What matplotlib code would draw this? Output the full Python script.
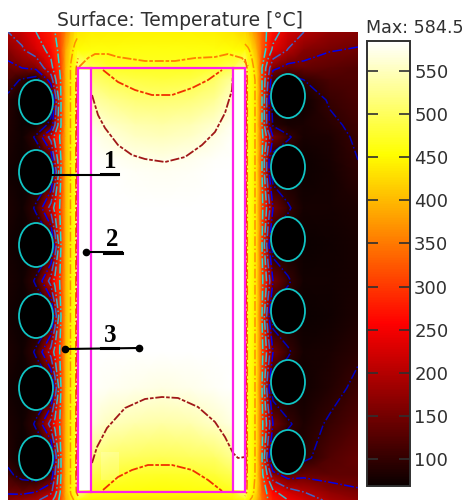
import numpy as np
import matplotlib
matplotlib.use('Agg')
import matplotlib.pyplot as plt
from matplotlib.patches import Ellipse, Rectangle

W, H = 467, 501

# sample positions of the temperature table
x_pos = [8, 22, 36, 51, 55, 61, 66, 71, 75, 78, 91, 110, 135, 162, 190, 215, 233,
         245, 248, 252, 257, 262, 268, 273, 288, 304, 330, 358]
y_pos = [32, 50, 68, 80, 100, 125, 137, 160, 172, 208, 245, 281, 316, 352, 388,
         424, 458, 475, 492, 500]

# temperature, one row per y_pos
t_032 = [200, 215, 250, 280, 300, 320, 360, 400, 425, 435, 440, 442, 445, 445, 445, 442, 435, 420, 410, 390, 360, 330, 290, 270, 225, 200, 175, 165]
t_050 = [165, 195, 225, 265, 285, 320, 390, 430, 450, 455, 458, 458, 460, 460, 460, 458, 455, 450, 445, 430, 390, 330, 280, 240, 198, 165, 152, 147]
t_068 = [140, 150, 160, 235, 270, 310, 400, 445, 465, 530, 490, 475, 470, 470, 470, 478, 495, 530, 470, 450, 420, 300, 220, 160, 135, 140, 132, 125]
t_080 = [120, 95, 75, 170, 240, 305, 400, 445, 462, 560, 510, 495, 488, 485, 488, 505, 535, 570, 465, 455, 430, 300, 200, 110, 72, 100, 118, 122]
t_100 = [90, 72, 70, 75, 170, 300, 400, 445, 462, 572, 540, 525, 513, 510, 515, 530, 560, 572, 465, 455, 430, 300, 170, 72, 70, 72, 105, 118]
t_125 = [88, 72, 75, 110, 200, 300, 400, 445, 462, 572, 570, 555, 543, 540, 545, 560, 578, 572, 465, 455, 430, 300, 170, 95, 80, 82, 92, 110]
t_137 = [85, 75, 105, 220, 265, 310, 400, 445, 462, 572, 578, 565, 553, 550, 555, 570, 582, 572, 465, 455, 430, 310, 230, 150, 105, 80, 85, 106]
t_160 = [80, 72, 75, 110, 210, 300, 400, 445, 462, 572, 583, 580, 574, 572, 575, 582, 584, 572, 465, 455, 430, 300, 170, 75, 70, 72, 80, 100]
t_172 = [75, 70, 70, 75, 170, 300, 400, 445, 462, 572, 584, 584, 580, 578, 580, 584, 584, 572, 465, 455, 430, 300, 170, 72, 70, 72, 78, 96]
t_208 = [84, 75, 105, 220, 265, 310, 400, 445, 462, 572, 584, 584, 584, 584, 584, 584, 584, 572, 465, 455, 430, 310, 230, 150, 105, 78, 78, 85]
t_245 = [76, 70, 70, 75, 170, 300, 400, 445, 462, 572, 584, 584, 584, 584, 584, 584, 584, 572, 465, 455, 430, 300, 170, 72, 70, 71, 74, 80]
t_281 = [82, 75, 105, 220, 265, 310, 400, 445, 462, 572, 584, 584, 584, 584, 584, 584, 584, 572, 465, 455, 430, 310, 230, 150, 105, 76, 76, 80]
t_316 = [76, 70, 70, 75, 170, 300, 400, 445, 462, 572, 584, 584, 584, 584, 584, 584, 584, 572, 465, 455, 430, 300, 170, 72, 70, 71, 75, 85]
t_352 = [84, 75, 105, 220, 265, 310, 400, 445, 462, 572, 584, 584, 584, 584, 584, 584, 584, 572, 465, 455, 430, 310, 230, 150, 105, 78, 82, 95]
t_388 = [76, 70, 70, 75, 170, 300, 400, 445, 462, 572, 582, 578, 574, 570, 574, 580, 583, 572, 465, 455, 430, 300, 170, 72, 70, 75, 88, 108]
t_424 = [85, 75, 105, 220, 265, 310, 400, 445, 462, 572, 565, 550, 542, 538, 542, 555, 570, 572, 465, 455, 430, 310, 230, 150, 105, 85, 105, 125]
t_458 = [88, 71, 70, 75, 170, 300, 400, 445, 462, 572, 520, 505, 498, 495, 498, 505, 525, 570, 465, 455, 430, 300, 170, 72, 70, 90, 125, 140]
t_475 = [110, 85, 72, 110, 200, 300, 400, 445, 462, 572, 495, 480, 475, 472, 475, 480, 495, 560, 465, 455, 430, 310, 240, 170, 130, 140, 135, 135]
t_492 = [145, 140, 150, 190, 230, 310, 400, 445, 460, 530, 465, 458, 456, 455, 456, 458, 465, 530, 465, 450, 420, 330, 290, 260, 220, 200, 170, 155]
t_500 = [165, 175, 190, 235, 265, 320, 390, 430, 445, 450, 440, 438, 435, 435, 435, 438, 440, 450, 445, 435, 400, 340, 300, 275, 250, 225, 190, 170]

temp_rows = [t_032, t_050, t_068, t_080, t_100, t_125, t_137, t_160, t_172, t_208,
             t_245, t_281, t_316, t_352, t_388, t_424, t_458, t_475, t_492, t_500]

# colour scale
t_min, t_max = 69, 584.5
bar_ticks = [100, 150, 200, 250, 300, 350, 400, 450, 500, 550]

# isotherms and their colours
iso_levels = [100, 150, 200, 250, 300, 440, 490, 530, 570]
iso_colors = ['#0000c0', '#0000f0', '#3c64c8', '#3cb4c8', '#20e0d8',
              '#ff9000', '#ff6000', '#f03000', '#a01818']

# isotherms inside the crucible
top_orange_x = [79, 88, 95, 108, 118, 145, 175, 195, 215, 228, 242, 248]
top_orange_y = [67, 58, 54, 54, 57, 61, 61, 58, 57, 54, 58, 66]
top_red_x = [103, 118, 135, 152, 172, 192, 208, 222]
top_red_y = [70, 82, 90, 95, 95, 88, 80, 70]
top_dark_x = [92, 98, 105, 118, 132, 145, 165, 185, 202, 215, 225, 232, 233]
top_dark_y = [95, 115, 128, 145, 155, 159, 162, 157, 145, 132, 113, 90, 73]
bot_dark_x = [92, 97, 107, 125, 145, 162, 178, 198, 215, 225, 233, 238, 245]
bot_dark_y = [463, 447, 428, 408, 399, 397, 398, 407, 422, 437, 453, 458, 457]
bot_red_x = [103, 118, 132, 148, 172, 192, 208, 222]
bot_red_y = [490, 477, 470, 465, 465, 470, 480, 491]

# coil centres
coils_left = [102, 172, 245, 316, 388, 458]
coils_right = [96, 167, 239, 311, 382, 452]

fig = plt.figure(figsize=(W / 100, H / 100), dpi=100)
ax = fig.add_axes([8 / W, 1 - 500 / H, 350 / W, 468 / H])

temp = np.array(temp_rows, dtype=float)
mesh = ax.pcolormesh(x_pos, y_pos, temp, shading='gouraud', cmap='hot',
                     vmin=t_min, vmax=t_max)

# white gaps in the crucible wall
ax.add_patch(Rectangle((78, 70), 13, 420, fc='white', ec='none', zorder=1.5))
ax.add_patch(Rectangle((233, 70), 12, 420, fc='white', ec='none', zorder=1.5))

# contours only outside the crucible, the inside ones are traced below
inside = np.zeros_like(temp, dtype=bool)
inside[:, 10:17] = True
ax.contour(x_pos, y_pos, np.ma.array(temp, mask=inside), levels=iso_levels,
           colors=iso_colors, linestyles='dashdot', linewidths=1.1, zorder=2)

for px, py, col in [(top_orange_x, top_orange_y, '#ff8000'),
                    (top_red_x, top_red_y, '#f03000'),
                    (top_dark_x, top_dark_y, '#a01818'),
                    (bot_dark_x, bot_dark_y, '#a01818'),
                    (bot_red_x, bot_red_y, '#f03000')]:
    ax.plot(px, py, color=col, lw=1.3, ls=(0, (5, 1, 2, 1)), zorder=2)

ax.set_xlim(8, 358)
ax.set_ylim(500, 32)
ax.axis('off')

# coils
for cy in coils_left:
    ax.add_patch(Ellipse((36, cy), 34, 44, fc='black', ec='#10c4c4', lw=1.3, zorder=3))
for cy in coils_right:
    ax.add_patch(Ellipse((288, cy), 34, 44, fc='black', ec='#10c4c4', lw=1.3, zorder=3))

# crucible outline
ax.add_patch(Rectangle((78, 68), 167, 424, fc='none', ec='#ff20e8', lw=1.6, zorder=4))
ax.plot([91, 91], [68, 492], color='#ff20e8', lw=1.6, zorder=4)
ax.plot([233, 233], [68, 492], color='#ff20e8', lw=1.6, zorder=4)

# faint mark near the bottom of the crucible
ax.add_patch(Rectangle((101, 452), 18, 28, fc='white', ec='none', alpha=0.2, zorder=1.8))

# numbered probes
ax.plot([52, 118], [175, 175], color='black', lw=1.5, zorder=5)
ax.plot([86, 122], [252, 252], color='black', lw=1.5, zorder=5)
ax.plot([65, 139], [349, 348], color='black', lw=1.5, zorder=5)
ax.plot([86], [252], 'o', color='black', ms=4.5, zorder=5)
ax.plot([65, 139], [349, 348], 'o', color='black', ms=4.5, zorder=5)
ax.plot([101, 118], [174, 174], color='black', lw=2.2, zorder=5)
ax.plot([104, 122], [253, 253], color='black', lw=2.2, zorder=5)
ax.plot([101, 118], [348, 348], color='black', lw=2.2, zorder=5)
for lbl, lx, ly in [('1', 110, 173), ('2', 112, 251), ('3', 110, 347)]:
    ax.text(lx, ly, lbl, family='Liberation Serif', weight='bold', size=18,
            ha='center', va='bottom', color='black', zorder=6)

# colour bar
cax = fig.add_axes([367 / W, 1 - 486 / H, 43 / W, 445 / H])
cb = fig.colorbar(mesh, cax=cax)
cb.set_ticks(bar_ticks)
cb.ax.minorticks_off()
cb.outline.set_edgecolor('#303030')
cb.outline.set_linewidth(1.4)
cax.tick_params(left=True, right=True, direction='in', length=8, width=1.2,
                color='#303030', labelsize=13, labelcolor='#303030', pad=3)

fig.text(180 / W, 1 - 20 / H, 'Surface: Temperature [\u00b0C]', size=13.5,
         ha='center', va='center', color='#303030')
fig.text(415 / W, 1 - 28 / H, 'Max: 584.5', size=12.6,
         ha='center', va='center', color='#303030')

fig.savefig('out.png', dpi=100)
